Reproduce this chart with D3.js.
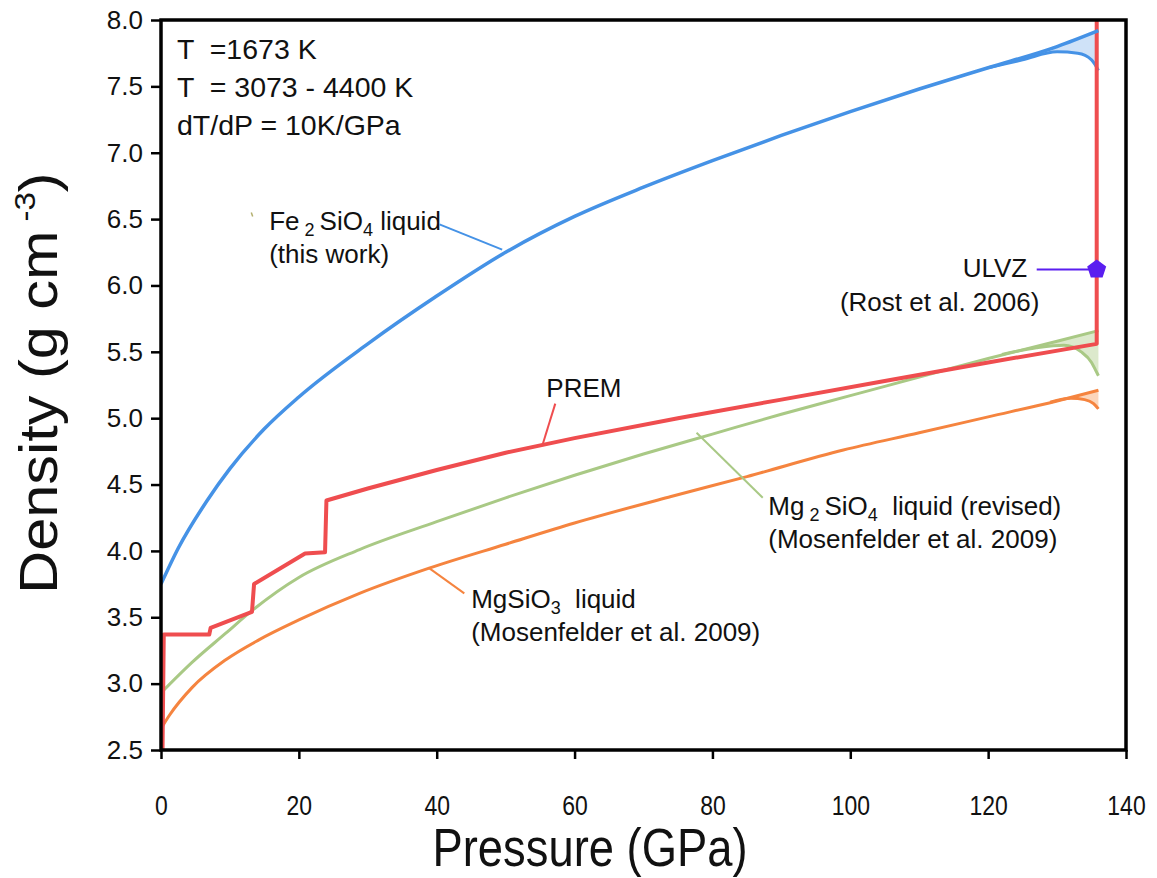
<!DOCTYPE html>
<html>
<head>
<meta charset="utf-8">
<script src="https://cdn.jsdelivr.net/npm/d3@7"></script>
<style>
  body { margin: 0; background: white; }
  text { font-family: "Liberation Sans", Arial, sans-serif; }
</style>
</head>
<body>
<div id="viz"></div>
<script>
const width = 1157
const height = 878

// chart data
const xTicks = [0, 20, 40, 60, 80, 100, 120, 140]
const yTicks = [2.5, 3.0, 3.5, 4.0, 4.5, 5.0, 5.5, 6.0, 6.5, 7.0, 7.5, 8.0]

const fePressure = [0, 2.5, 6.7, 10, 15, 20, 30, 40, 50, 60, 70, 80, 90, 100, 110, 120, 130, 136]
const feDensity = [3.75, 4.02, 4.38, 4.62, 4.92, 5.16, 5.56, 5.92, 6.25, 6.52, 6.74, 6.94, 7.13, 7.31, 7.48, 7.64, 7.80, 7.92]
const feHotPressure = [120, 125, 130, 133, 135, 136]
const feHotDensity = [7.64, 7.70, 7.76, 7.75, 7.70, 7.62]

const mg2Pressure = [0, 4.5, 9.4, 13.2, 20, 28.8, 40, 50, 60, 70, 80, 90, 100, 110, 120, 130, 136]
const mg2Density = [2.93, 3.16, 3.38, 3.55, 3.80, 4.01, 4.22, 4.40, 4.57, 4.73, 4.88, 5.03, 5.17, 5.31, 5.45, 5.58, 5.66]
const mg2HotPressure = [122, 127, 131, 133.5, 135, 135.6, 136]
const mg2HotDensity = [5.48, 5.53, 5.55, 5.50, 5.42, 5.36, 5.32]

const mgPressure = [0, 1.2, 4.5, 9.4, 14.2, 20, 28.8, 38.9, 50, 60, 74, 85, 99, 110, 120, 130, 136]
const mgDensity = [2.66, 2.76, 2.97, 3.18, 3.33, 3.48, 3.68, 3.87, 4.05, 4.21, 4.41, 4.56, 4.76, 4.89, 5.01, 5.13, 5.21]
const mgHotPressure = [129, 132, 134, 135.3, 136]
const mgHotDensity = [5.12, 5.15, 5.14, 5.11, 5.07]

const premPressure = [0.2, 0.4, 7.0, 7.2, 13.2, 13.5, 20.9, 23.8, 24.0, 30, 40, 50, 60, 75, 90, 105, 120, 135.75, 135.75]
const premDensity = [2.4, 3.37, 3.37, 3.42, 3.54, 3.75, 3.98, 3.99, 4.38, 4.47, 4.61, 4.74, 4.85, 5.00, 5.14, 5.28, 5.42, 5.56, 9.9]

const ulvzPressure = [135.75]
const ulvzDensity = [6.12]

const blueColor = "#4592e6"
const greenColor = "#a9c985"
const orangeColor = "#f5843f"
const redColor = "#ef4d4f"

const plot = {left: 161, right: 1126, top: 20, bottom: 750}

const xScale = d3.scaleLinear().domain([0, 140]).range([plot.left, plot.right])
const yScale = d3.scaleLinear().domain([2.5, 8.0]).range([plot.bottom, plot.top])

const svg = d3.select("#viz").append("svg").attr("width", width).attr("height", height)

svg.append("clipPath").attr("id", "plotClip").append("rect")
    .attr("x", plot.left).attr("y", plot.top).attr("width", plot.right-plot.left).attr("height", plot.bottom-plot.top)

const zip = (ps, ds) => ps.map((p, i) => [p, ds[i]])
const line = d3.line().x(d=>xScale(d[0])).y(d=>yScale(d[1])).curve(d3.curveMonotoneX)
const lineStraight = d3.line().x(d=>xScale(d[0])).y(d=>yScale(d[1]))

const curvesGroup = svg.append("g").attr("clip-path", "url(#plotClip)")

// shaded bands between the two temperature bounds near the CMB
function band(ps, ds, hotPs, hotDs, fill, stroke) {
    const cool = zip(ps, ds)
    const hot = zip(hotPs, hotDs)
    const start = hotPs[0]
    const upper = cool.filter(d=>d[0] >= start)
    const poly = upper.concat(hot.slice().reverse())
    curvesGroup.append("path").attr("d", lineStraight(poly) + "Z").attr("fill", fill).attr("stroke", "none")
    curvesGroup.append("path").attr("d", line(hot)).attr("fill", "none").attr("stroke", stroke).attr("stroke-width", 3)
}

band(mgPressure, mgDensity, mgHotPressure, mgHotDensity, "#fcd6bb", orangeColor)
band(mg2Pressure, mg2Density, mg2HotPressure, mg2HotDensity, "#dce9cc", greenColor)
band(fePressure, feDensity, feHotPressure, feHotDensity, "#cfe2f8", blueColor)

curvesGroup.append("path").attr("d", line(zip(mgPressure, mgDensity))).attr("fill", "none").attr("stroke", orangeColor).attr("stroke-width", 3)
curvesGroup.append("path").attr("d", line(zip(mg2Pressure, mg2Density))).attr("fill", "none").attr("stroke", greenColor).attr("stroke-width", 3)
curvesGroup.append("path").attr("d", lineStraight(zip(premPressure, premDensity))).attr("fill", "none").attr("stroke", redColor).attr("stroke-width", 4).attr("stroke-linejoin", "round")
curvesGroup.append("path").attr("d", line(zip(fePressure, feDensity))).attr("fill", "none").attr("stroke", blueColor).attr("stroke-width", 3.5)

// ULVZ marker (pentagon)
const pentagon = d3.range(5).map(i => {
    const a = -Math.PI/2 + i*2*Math.PI/5
    return [10*Math.cos(a), 10*Math.sin(a)]
})
svg.append("line").attr("x1", xScale(ulvzPressure[0])-60).attr("x2", xScale(ulvzPressure[0])).attr("y1", yScale(ulvzDensity[0])).attr("y2", yScale(ulvzDensity[0]))
    .attr("stroke", "#5a1ef0").attr("stroke-width", 2)
svg.selectAll(".ulvz").data(zip(ulvzPressure, ulvzDensity)).enter().append("path").attr("class", "ulvz")
    .attr("d", d3.line()(pentagon) + "Z").attr("fill", "#5a1ef0")
    .attr("transform", d=>`translate(${xScale(d[0])}, ${yScale(d[1])})`)

// axes
const xAxis = d3.axisBottom(xScale).tickValues(xTicks).tickSize(9).tickPadding(36).tickFormat(d3.format("d"))
const yAxis = d3.axisLeft(yScale).tickValues(yTicks).tickSize(10).tickPadding(8).tickFormat(d3.format(".1f"))

const xAxisGroup = svg.append("g").attr("transform", `translate(0, ${plot.bottom})`).call(xAxis)
xAxisGroup.select(".domain").remove()
xAxisGroup.selectAll("line").attr("stroke", "black").attr("stroke-width", 2.5)
xAxisGroup.selectAll("text").attr("fill", "#111").attr("font-size", 28).attr("transform", "scale(0.82, 1)")
    .style("font-family", "'Liberation Sans', Arial, sans-serif")

const yAxisGroup = svg.append("g").attr("transform", `translate(${plot.left}, 0)`).call(yAxis)
yAxisGroup.select(".domain").remove()
yAxisGroup.selectAll("line").attr("stroke", "black").attr("stroke-width", 2.5)
yAxisGroup.selectAll("text").attr("fill", "#111").attr("font-size", 26)
    .style("font-family", "'Liberation Sans', Arial, sans-serif")

// frame
svg.append("rect").attr("x", plot.left).attr("y", plot.top).attr("width", plot.right-plot.left).attr("height", plot.bottom-plot.top)
    .attr("fill", "none").attr("stroke", "black").attr("stroke-width", 3.5)

// axis titles
svg.append("text").attr("transform", `translate(590, 866) scale(0.84, 1)`).attr("text-anchor", "middle")
    .attr("font-size", 54).attr("fill", "#111").text("Pressure (GPa)")

const yTitle = svg.append("text").attr("transform", `translate(57, 383) rotate(-90) scale(1.1, 1)`).attr("text-anchor", "middle")
    .attr("font-size", 54).attr("fill", "#111")
yTitle.append("tspan").text("Density (g cm")
yTitle.append("tspan").attr("font-size", 30).attr("dy", -22).text(" -3")
yTitle.append("tspan").attr("dy", 22).text(")")

// condition text
const condText = ["T  =1673 K", "T  = 3073 - 4400 K", "dT/dP = 10K/GPa"]
svg.selectAll(".cond").data(condText).enter().append("text").attr("class", "cond")
    .attr("x", 177).attr("y", (d,i)=>59+i*38).attr("font-size", 28.5).attr("fill", "#111")
    .style("white-space", "pre").text(d=>d)

// labels with leader lines
const labelSize = 26

function leader(p1, p2, color) {
    svg.append("line").attr("x1", xScale(p1[0])).attr("y1", yScale(p1[1])).attr("x2", xScale(p2[0])).attr("y2", yScale(p2[1]))
        .attr("stroke", color).attr("stroke-width", 2)
}

function chem(sel, parts) {
    // parts: [text, isSub]
    parts.forEach(([t, sub], i) => {
        const prevSub = i > 0 && parts[i-1][1]
        const ts = sel.append("tspan").text(t)
        if (sub) ts.attr("font-size", 18).attr("dy", 6)
        else if (prevSub) ts.attr("dy", -6)
    })
}

// Fe2SiO4
const feLabel = svg.append("text").attr("x", xScale(15.7)).attr("y", yScale(6.42)).attr("font-size", labelSize).attr("fill", "#111").style("white-space", "pre")
chem(feLabel, [["Fe", false], [" 2 ", true], ["SiO", false], ["4", true], [" liquid", false]])
svg.append("text").attr("x", xScale(15.7)).attr("y", yScale(6.42)+33).attr("font-size", labelSize).attr("fill", "#111").text("(this work)")
leader([40.4, 6.46], [49.5, 6.27], blueColor)
svg.append("line").attr("x1", xScale(13.1)).attr("y1", yScale(6.55)).attr("x2", xScale(13.3)).attr("y2", yScale(6.52))
    .attr("stroke", "#b4b070").attr("stroke-width", 1.5)

// PREM
svg.append("text").attr("x", xScale(55.9)).attr("y", yScale(5.16)).attr("font-size", labelSize).attr("fill", "#111").text("PREM")
leader([57.2, 5.11], [55.3, 4.79], redColor)

// Mg2SiO4
const mg2Label = svg.append("text").attr("x", xScale(88.1)).attr("y", yScale(4.27)).attr("font-size", labelSize).attr("fill", "#111").style("white-space", "pre")
chem(mg2Label, [["Mg", false], [" 2 ", true], ["SiO", false], ["4", true], ["  liquid (revised)", false]])
svg.append("text").attr("x", xScale(88.1)).attr("y", yScale(4.27)+33).attr("font-size", labelSize).attr("fill", "#111").text("(Mosenfelder et al. 2009)")
leader([87.3, 4.40], [77.7, 4.89], greenColor)

// MgSiO3
const mgLabel = svg.append("text").attr("x", xScale(45)).attr("y", yScale(3.57)).attr("font-size", labelSize).attr("fill", "#111").style("white-space", "pre")
chem(mgLabel, [["MgSiO", false], ["3", true], ["  liquid", false]])
svg.append("text").attr("x", xScale(45)).attr("y", yScale(3.57)+33).attr("font-size", labelSize).attr("fill", "#111").text("(Mosenfelder et al. 2009)")
leader([44, 3.68], [38.9, 3.87], orangeColor)

// ULVZ
svg.append("text").attr("x", xScale(116.3)).attr("y", yScale(6.06)).attr("font-size", labelSize).attr("fill", "#111").text("ULVZ")
svg.append("text").attr("x", xScale(98.5)).attr("y", yScale(6.06)+34).attr("font-size", labelSize).attr("fill", "#111").text("(Rost et al. 2006)")
</script>
</body>
</html>
